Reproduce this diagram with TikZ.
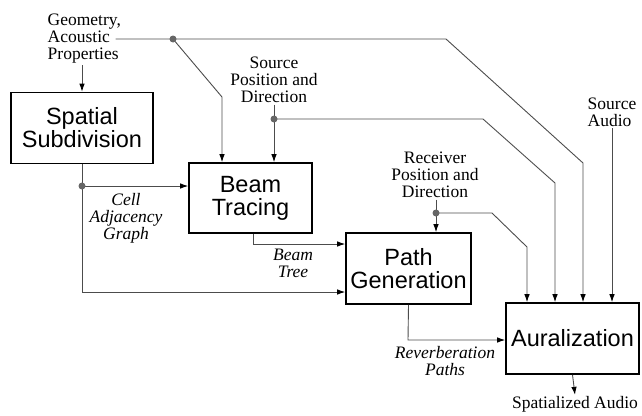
\documentclass[tikz,border=0pt]{standalone}
\usepackage{fontspec}
\setmainfont{Liberation Serif}
\newfontfamily\boxfont{Liberation Sans}
\usetikzlibrary{arrows.meta}

\begin{document}
\begin{tikzpicture}[x=1pt,y=-1pt,
  block/.style={draw,line width=1.6pt,align=center,inner sep=0pt,font=\boxfont\fontsize{23.5}{23}\selectfont},
  lbl/.style={align=center,inner sep=1.5pt,font=\fontsize{17.5}{17}\selectfont},
  ilbl/.style={lbl,font=\fontsize{17.5}{17}\selectfont\itshape},
  wire/.style={draw=black!70,line width=0.9pt},
  arr/.style={wire,-{Latex[length=8pt,width=5.5pt,black]}},
  dot/.style={circle,fill=black!60,inner sep=0pt,minimum size=7pt}]
  \useasboundingbox (0,0) rectangle (642,415);

  \node[block,minimum width=142pt,minimum height=71pt] (sp) at (82,128) {Spatial\\Subdivision};
  \node[block,minimum width=123pt,minimum height=70pt] (beam) at (250.5,198) {Beam\\Tracing};
  \node[block,minimum width=125pt,minimum height=71pt] (path) at (408.5,268.5) {Path\\Generation};
  \node[block,minimum width=133pt,minimum height=71pt] (aur) at (572.5,338.5) {Auralization};

  \node[lbl,align=left,anchor=west] (geom) at (46,39) {Geometry,\\Acoustic\\Properties};
  \node[lbl] (src) at (274,80) {Source\\Position and\\Direction};
  \node[lbl] (recv) at (435,175) {Receiver\\Position and\\Direction};
  \node[lbl,align=left,anchor=west] (sa) at (586,112) {Source\\Audio};
  \node[lbl] (out) at (575,404.5) {Spatialized Audio};

  \node[ilbl] (cag) at (126,218) {Cell\\Adjacency\\Graph};
  \node[ilbl] (bt) at (293,263) {Beam\\Tree};
  \node[ilbl] (rp) at (445,361) {Reverberation\\Paths};

  \coordinate (g1) at (446,39);
  \coordinate (g2) at (583,163);
  \coordinate (b1) at (222,97);
  \coordinate (s1) at (483,119);
  \coordinate (s2) at (555,183);
  \coordinate (r1) at (492,213);
  \coordinate (r2) at (527,247);
  \coordinate (c1) at (82,292);
  \coordinate (t1) at (253,244);
  \coordinate (p1) at (408,340);

  \draw[arr] ([xshift=-7pt]geom.east) -- (173,39) -- (g1) -- (g2) -- (g2 |- aur.north);
  \draw[arr] (173,39) -- (b1) -- (b1 |- beam.north);
  \draw[arr] (geom.south -| sp.north) -- (sp.north);

  \draw[wire] (src.south) -- (274,119);
  \draw[arr] (274,119) -- (beam.north -| 274,119);
  \draw[arr] (274,119) -- (s1) -- (s2) -- (s2 |- aur.north);

  \draw[wire] (recv.south -| 436,213) -- (436,213);
  \draw[arr] (436,213) -- (path.north -| 436,213);
  \draw[arr] (436,213) -- (r1) -- (r2) -- (r2 |- aur.north);

  \draw[arr] (sa.south) -- (sa.south |- aur.north);

  \draw[wire] (sp.south) -- (82,186);
  \draw[arr] (82,186) -- (beam.west |- 82,186);
  \draw[arr] (82,186) -- (c1) -- (c1 -| path.west);

  \draw[arr] (t1 |- beam.south) -- (t1) -- (t1 -| path.west);
  \draw[arr] (path.south) -- (p1) -- (p1 -| aur.west);
  \draw[arr] (aur.south) -- (out.north);

  \node[dot] (d1) at (173,39) {};
  \node[dot] (d2) at (274,119) {};
  \node[dot] (d3) at (436,213) {};
  \node[dot] (d4) at (82,186) {};
\end{tikzpicture}
\end{document}
